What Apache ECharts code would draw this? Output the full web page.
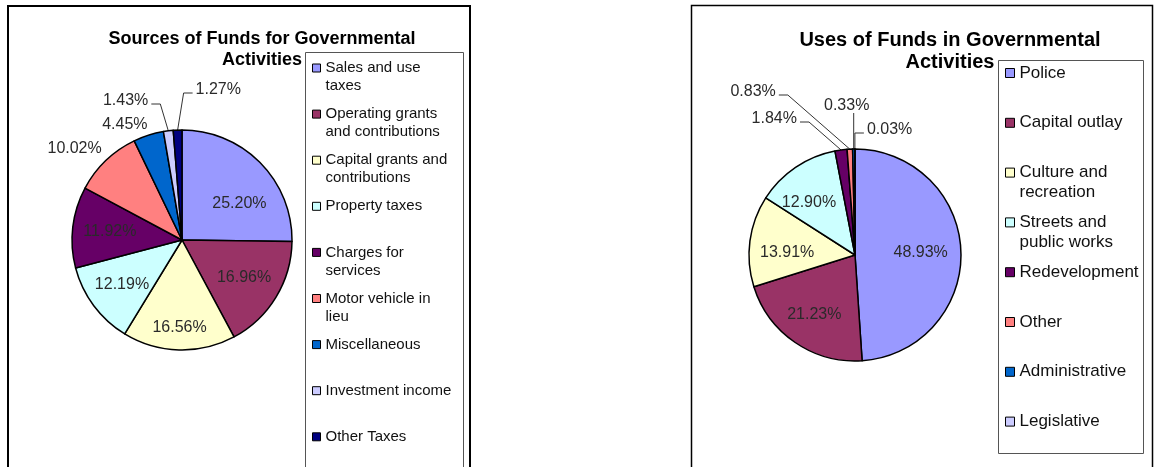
<!DOCTYPE html>
<html>
<head>
<meta charset="utf-8">
<title>Sources and Uses of Funds in Governmental Activities</title>
<script src="https://cdn.jsdelivr.net/npm/echarts@6/dist/echarts.min.js"></script>
<style>
  html, body { margin: 0; padding: 0; background: #fff; }
  #chart { width: 1156px; height: 467px; }
</style>
</head>
<body>
<div id="chart"></div>
<script>
// Sources of funds, percent of total
const sourceNames = ['Sales and use taxes', 'Operating grants and contributions', 'Capital grants and contributions',
  'Property taxes', 'Charges for services', 'Motor vehicle in lieu', 'Miscellaneous', 'Investment income', 'Other Taxes'];
const sourceValues = [25.20, 16.96, 16.56, 12.19, 11.92, 10.02, 4.45, 1.43, 1.27];

// Uses of funds, percent of total
const useNames = ['Police', 'Capital outlay', 'Culture and recreation', 'Streets and public works',
  'Redevelopment', 'Other', 'Administrative', 'Legislative'];
const useValues = [48.93, 21.23, 13.91, 12.90, 1.84, 0.83, 0.33, 0.03];

// old Excel pie palette
const sourceColors = ['#9999FF', '#993366', '#FFFFCC', '#CCFFFF', '#660066', '#FF8080', '#0066CC', '#CCCCFF', '#000080'];
const useColors = ['#9999FF', '#993366', '#FFFFCC', '#CCFFFF', '#660066', '#FF8080', '#0066CC', '#CCCCFF'];

// how the legend boxes wrap the names
const legendWrap = {
  'Sales and use taxes': 'Sales and use\ntaxes',
  'Operating grants and contributions': 'Operating grants\nand contributions',
  'Capital grants and contributions': 'Capital grants and\ncontributions',
  'Charges for services': 'Charges for\nservices',
  'Motor vehicle in lieu': 'Motor vehicle in\nlieu',
  'Culture and recreation': 'Culture and\nrecreation',
  'Streets and public works': 'Streets and\npublic works'
};

// label placement: inside, just outside, or with a leader line
const sourcePlace = [
  { mode: 'in', k: 0.62, turn: 12 }, { mode: 'in', k: 0.66 }, { mode: 'in', k: 0.8 }, { mode: 'in', k: 0.68 }, { mode: 'in', k: 0.66 },
  { mode: 'out', gap: 6 }, { mode: 'out', gap: 3 },
  { mode: 'left', lift: 26, bend: -8 },
  { mode: 'right', lift: 37, bend: 6 }
];
const usePlace = [
  { mode: 'in', k: 0.62 }, { mode: 'in', k: 0.68 }, { mode: 'in', k: 0.64, turn: -6 }, { mode: 'in', k: 0.66, turn: -7 },
  { mode: 'left', lift: 27, bend: -32 },
  { mode: 'left', lift: 54, bend: -62 },
  { mode: 'up', lift: 36, shift: -7 },
  { mode: 'right', lift: 16, bend: 0 }
];

const FONT = '"Liberation Sans", Arial, sans-serif';

function labelPlacer(values, cx, cy, r, place) {
  const total = values.reduce((a, b) => a + b, 0);
  const mids = [];
  let acc = 0;
  values.forEach(v => { mids.push((acc + v / 2) / total * Math.PI * 2); acc += v; });
  return function (p) {
    const i = p.dataIndex, pl = place[i];
    const ang = mids[i] + (pl.turn || 0) * Math.PI / 180;
    const ux = Math.sin(ang), uy = -Math.cos(ang);
    if (pl.mode === 'in') {
      return { x: cx + ux * r * pl.k, y: cy + uy * r * pl.k, align: 'center', verticalAlign: 'middle' };
    }
    if (pl.mode === 'out') {
      const d = r + pl.gap;
      return { x: cx + ux * d, y: cy + uy * d, align: ux < 0 ? 'right' : 'left', verticalAlign: uy < 0 ? 'bottom' : 'top' };
    }
    const ax = cx + ux * r, ay = cy + uy * r;
    const ey = cy - r - pl.lift, ex = ax + (pl.bend || 0);
    if (pl.mode === 'up') {
      return { x: ex + pl.shift, y: ey + 1, align: 'center', verticalAlign: 'bottom',
        labelLinePoints: [[ax, ay], [ex, ey]] };
    }
    const dir = pl.mode === 'left' ? -1 : 1;
    const fx = ex + dir * 9;
    return { x: fx + dir * 3, y: ey - 3, align: dir < 0 ? 'right' : 'left', verticalAlign: 'middle',
      labelLinePoints: [[ax, ay], [ex, ey], [fx, ey]] };
  };
}

function pieData(names, values, colors, place) {
  return names.map((n, i) => ({
    name: n,
    value: values[i],
    itemStyle: { color: colors[i] },
    labelLine: { show: place[i].mode !== 'in' && place[i].mode !== 'out' }
  }));
}

// every legend entry is three lines tall with its first text line beside the icon,
// so one- and two-line entries take the same slot like in the original box
function legendText(n) {
  const t = legendWrap[n] || n;
  return t.indexOf('\n') >= 0 ? ' \n' + t : ' \n' + t + '\n ';
}

function pieSeries(center, radius, names, values, colors, place) {
  return {
    type: 'pie',
    center: center,
    radius: radius,
    startAngle: 90,
    clockwise: true,
    avoidLabelOverlap: false,
    animation: false,
    emphasis: { disabled: true },
    itemStyle: { borderColor: '#000', borderWidth: 1.5 },
    label: {
      show: true,
      position: 'outside',
      formatter: p => p.value.toFixed(2) + '%',
      fontFamily: FONT,
      fontSize: 16,
      color: '#2a2a2a'
    },
    labelLine: { show: false, lineStyle: { color: '#333', width: 1 } },
    labelLayout: labelPlacer(values, center[0], center[1], radius, place),
    data: pieData(names, values, colors, place)
  };
}

const chart = echarts.init(document.getElementById('chart'));

const option = {
  backgroundColor: '#fff',
  animation: false,
  title: [
    {
      text: 'Sources of Funds for Governmental\nActivities',
      left: 262, top: 29, padding: 0, textAlign: 'center',
      textStyle: { fontFamily: FONT, fontSize: 18, fontWeight: 'bold', lineHeight: 20.5, color: '#000' }
    },
    {
      text: 'Uses of Funds in Governmental\nActivities',
      left: 950, top: 30, padding: 0, textAlign: 'center',
      textStyle: { fontFamily: FONT, fontSize: 20, fontWeight: 'bold', lineHeight: 21.5, color: '#000' }
    }
  ],
  legend: [
    {
      orient: 'vertical', left: 312, top: 41, padding: 0,
      itemGap: -7.9, itemWidth: 8, itemHeight: 8, icon: 'rect',
      selectedMode: false,
      formatter: legendText,
      itemStyle: { borderColor: '#000', borderWidth: 1 },
      textStyle: { fontFamily: FONT, fontSize: 15, lineHeight: 18, color: '#111', backgroundColor: 'transparent' },
      data: sourceNames
    },
    {
      orient: 'vertical', left: 1005, top: 43, padding: 0,
      itemGap: -10.2, itemWidth: 9, itemHeight: 9, icon: 'rect',
      selectedMode: false,
      formatter: legendText,
      itemStyle: { borderColor: '#000', borderWidth: 1 },
      textStyle: { fontFamily: FONT, fontSize: 17, lineHeight: 20, color: '#111', backgroundColor: 'transparent' },
      data: useNames
    }
  ],
  graphic: [
    { type: 'rect', silent: true, shape: { x: 8, y: 6, width: 462, height: 480 }, style: { fill: 'none', stroke: '#000', lineWidth: 2 } },
    { type: 'rect', silent: true, shape: { x: 305.5, y: 52.5, width: 158, height: 430 }, style: { fill: 'none', stroke: '#555', lineWidth: 1 } },
    { type: 'rect', silent: true, shape: { x: 691.5, y: 5.5, width: 461, height: 480 }, style: { fill: 'none', stroke: '#000', lineWidth: 1.5 } },
    { type: 'rect', silent: true, shape: { x: 998.5, y: 60.5, width: 145, height: 393 }, style: { fill: 'none', stroke: '#555', lineWidth: 1 } }
  ],
  series: [
    pieSeries([182, 240], 110, sourceNames, sourceValues, sourceColors, sourcePlace),
    pieSeries([855, 255], 106, useNames, useValues, useColors, usePlace)
  ]
};

chart.setOption(option);
window.addEventListener('resize', () => chart.resize());
</script>
</body>
</html>
